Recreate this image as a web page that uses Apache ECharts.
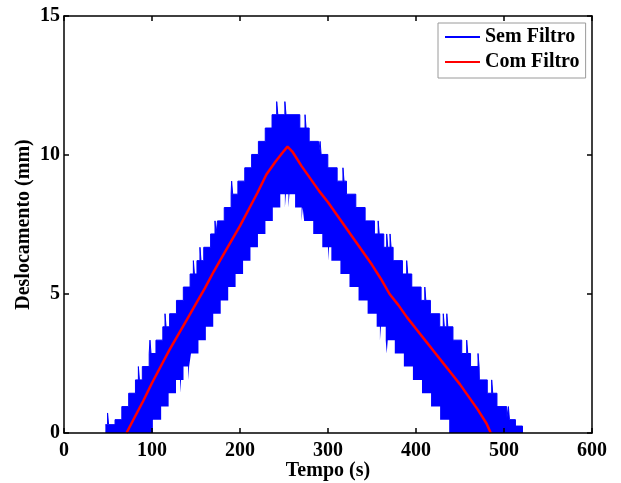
<!DOCTYPE html>
<html>
<head>
<meta charset="utf-8">
<script src="https://cdn.jsdelivr.net/npm/echarts@6/dist/echarts.min.js"></script>
<style>
html,body{margin:0;padding:0;background:#fff;}
#chart{width:621px;height:483px;}
</style>
</head>
<body>
<div id="chart"></div>
<script>
// Tick values
const xTicks = [0, 100, 200, 300, 400, 500, 600];
const yTicks = [0, 5, 10, 15];

// "Sem Filtro": upper envelope of the dense (quantized) noisy signal, [tempo, deslocamento]
const semFiltroTopo = [
  [47,0.3],[49.5,0.72],[50.7,0.3],[58,0.48],[65.7,0.95],[73.5,1.43],[81.2,1.91],
  [84.5,2.39],[85.7,1.91],[89,2.39],[96.8,2.86],[97.7,3.34],[98.9,2.86],[104.5,3.34],
  [112.3,3.82],[114.8,4.29],[116,3.82],[120,4.29],[127.8,4.77],[135.6,5.25],[143.3,5.72],
  [147,6.2],[148.2,5.72],[151.1,6.2],[154.5,6.68],[155.7,6.2],[158.8,6.68],[166.6,7.16],
  [171.6,7.63],[172.8,7.16],[174.4,7.63],[182.1,8.11],[189.9,8.59],[190.5,9.06],[191.7,8.59],
  [197.6,9.06],[205.4,9.54],[213.2,10.02],[220.9,10.49],[228.7,10.97],[236.4,11.45],
  [241.7,11.92],[243,11.45],[251,11.92],[252.3,11.45],
  [268,10.97],[273.9,11.45],[275.1,10.97],[278.6,10.49],[289.2,10.02],[291,10.49],[292.2,10.02],
  [299.8,9.54],[310.4,9.06],[317,9.54],[318.2,9.06],[321,8.59],[331.6,8.11],[342.2,7.63],
  [352.8,7.16],[357,7.63],[358.2,7.16],[363.4,6.68],[366.7,7.16],[367.9,6.68],[370.5,7.16],
  [371.7,6.68],[374,6.2],[384.6,5.72],[389.4,6.2],[390.6,5.72],[395.2,5.25],[405.8,4.77],
  [410,5.25],[411.2,4.77],[416.4,4.29],[427,3.82],[431,4.29],[432.2,3.82],[435,4.29],
  [436.2,3.82],[442,3.34],[452,2.86],[457.6,3.34],[458.8,2.86],[462,2.39],[470.5,2.86],
  [471.7,2.39],[472,1.91],[481,1.43],[486,1.91],[487.2,1.43],[492,0.95],[503,0.48],
  [505,0.95],[506.2,0.48],[513,0.25],[521,0]
];

// "Sem Filtro": lower envelope of the same band (inner notch), [tempo, deslocamento]
const semFiltroBase = [
  [95,0],[101,0.48],[110.4,0.95],[118.9,1.43],[127.3,1.91],[131.8,1.43],[133,1.91],
  [135.8,2.39],[141,1.91],[142.2,2.39],[144.3,2.86],[152.8,3.34],[161.2,3.82],[169.6,4.29],
  [178.1,4.77],[186.6,5.25],[195,5.72],[203.5,6.2],[211.9,6.68],[220.4,7.16],[228.9,7.63],
  [237.3,8.11],[245.8,8.59],[251,8.11],[252.2,8.59],[255,8.11],[256.2,8.59],[262.6,8.11],
  [270,7.63],[271.2,8.11],[272.9,7.63],[283.2,7.16],[293.5,6.68],[300,6.2],[301.2,6.68],
  [303.8,6.2],[314.1,5.72],[324.4,5.25],[334.7,4.77],[345,4.29],[355.3,3.82],[359,3.34],
  [360.2,3.82],[365.6,3.34],[366.7,2.86],[367.9,3.34],[375.9,2.86],[386.2,2.39],
  [396.5,1.91],[406.8,1.43],[417.1,0.95],[427.4,0.48],[437.7,0],[441,0]
];

// "Com Filtro": filtered signal, [tempo, deslocamento]
const comFiltro = [
  [71,0],[80,0.55],[90,1.15],[100,1.8],[110,2.4],[120,3.0],[130,3.55],[140,4.1],[150,4.65],
  [160,5.2],[170,5.8],[180,6.35],[190,6.9],[200,7.45],[210,8.05],[220,8.65],[230,9.3],
  [240,9.75],[250,10.15],[254,10.3],[260,10.1],[270,9.6],[280,9.15],[290,8.7],[300,8.3],
  [310,7.85],[320,7.4],[330,6.95],[340,6.5],[350,6.05],[360,5.55],[370,5.0],[380,4.6],
  [390,4.15],[400,3.75],[410,3.35],[420,2.95],[430,2.55],[440,2.15],[450,1.75],[460,1.3],
  [470,0.85],[480,0.35],[485,0]
];

const seriesNames = ['Sem Filtro', 'Com Filtro'];

const FONT = '"Liberation Serif", "Times New Roman", serif';
const chart = echarts.init(document.getElementById('chart'), null, {renderer: 'canvas'});

const axisLineStyle = {onZero: false, lineStyle: {color: '#000', width: 1.5}};
const tickIn = {show: true, inside: true, length: 5, lineStyle: {color: '#000', width: 1.5}};
const labelStyle = {color: '#000', fontFamily: FONT, fontWeight: 'bold', fontSize: 20};

chart.setOption({
  animation: false,
  backgroundColor: '#fff',
  grid: {left: 64, right: 29, top: 16, bottom: 50, containLabel: false, outerBoundsMode: 'none'},
  legend: {
    orient: 'vertical',
    left: 438, top: 23,
    data: seriesNames,
    icon: 'rect',
    itemWidth: 35, itemHeight: 2,
    itemGap: 5,
    padding: [4, 6, 6, 7],
    borderColor: '#9a9a9a', borderWidth: 1, backgroundColor: '#fff',
    textStyle: {color: '#000', fontFamily: FONT, fontWeight: 'bold', fontSize: 20, lineHeight: 20}
  },
  xAxis: [
    {type: 'value', min: xTicks[0], max: xTicks[xTicks.length-1], interval: 100, position: 'bottom', z: 10,
     axisLine: axisLineStyle, axisTick: tickIn, splitLine: {show: false},
     axisLabel: Object.assign({margin: 8}, labelStyle),
     name: 'Tempo (s)', nameLocation: 'middle', nameGap: 28, nameMoveOverlap: false,
     nameTextStyle: {color: '#000', fontFamily: FONT, fontWeight: 'bold', fontSize: 20}},
    {type: 'value', min: xTicks[0], max: xTicks[xTicks.length-1], interval: 100, position: 'top', z: 10,
     axisLine: axisLineStyle, axisTick: tickIn, splitLine: {show: false}, axisLabel: {show: false}}
  ],
  yAxis: [
    {type: 'value', min: yTicks[0], max: yTicks[yTicks.length-1], interval: 5, position: 'left', z: 10,
     axisLine: axisLineStyle, axisTick: tickIn, splitLine: {show: false},
     axisLabel: Object.assign({margin: 4}, labelStyle),
     name: 'Deslocamento (mm)', nameLocation: 'middle', nameGap: 30, nameMoveOverlap: false,
     nameTextStyle: {color: '#000', fontFamily: FONT, fontWeight: 'bold', fontSize: 20}},
    {type: 'value', min: yTicks[0], max: yTicks[yTicks.length-1], interval: 5, position: 'right', z: 10,
     axisLine: axisLineStyle, axisTick: tickIn, splitLine: {show: false}, axisLabel: {show: false}}
  ],
  series: [
    {name: seriesNames[0], type: 'line', data: semFiltroTopo, step: 'end', showSymbol: false,
     lineStyle: {color: '#0000ff', width: 1}, itemStyle: {color: '#0000ff'},
     areaStyle: {color: '#0000ff', opacity: 1}, z: 2},
    {name: '_base', type: 'line', data: semFiltroBase, step: 'end', showSymbol: false,
     lineStyle: {color: '#ffffff', width: 0}, itemStyle: {color: '#ffffff'},
     areaStyle: {color: '#ffffff', opacity: 1}, z: 3},
    {name: seriesNames[1], type: 'line', data: comFiltro, showSymbol: false,
     lineStyle: {color: '#ff0000', width: 2.5}, itemStyle: {color: '#ff0000'}, z: 4}
  ]
});
</script>
</body>
</html>
